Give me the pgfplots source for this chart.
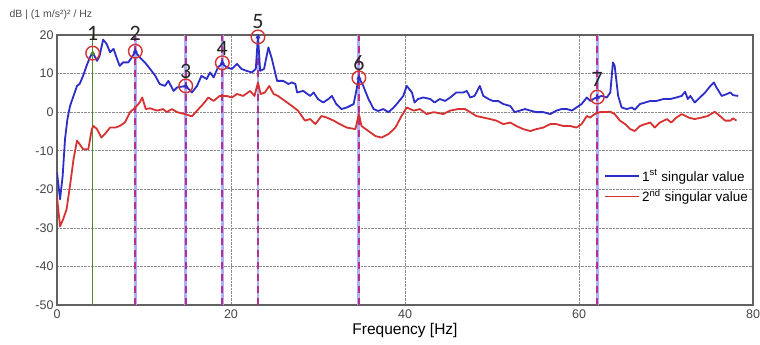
\documentclass[border=0pt]{standalone}
\usepackage{fontspec}
\setmainfont{Liberation Sans}
\newfontfamily\numfont{Carlito}
\usepackage{pgfplots}
\pgfplotsset{compat=1.18}
\usepackage{pgfplotstable}
\definecolor{sv1}{RGB}{45,45,200}
\definecolor{sv2}{RGB}{215,50,50}
\definecolor{vblue}{RGB}{175,175,245}
\definecolor{vred}{RGB}{180,50,140}
\definecolor{gline}{RGB}{80,140,40}
\definecolor{ticktext}{RGB}{70,70,70}

\pgfplotstableread{
f d
0 -15.6
0.35 -22.6
0.65 -16.6
0.92 -7
1.2 -1.8
1.5 1.6
1.9 4.2
2.3 6.8
2.6 7.3
3.0 9.4
3.4 12
3.8 14.3
4.1 15.5
4.6 13.3
4.9 14.6
5.3 18.8
5.7 17.7
6.1 15.5
6.5 16.4
6.9 13.8
7.2 12
7.6 12.9
8.2 12.9
8.6 14.2
9.0 15.7
9.5 14.2
10.1 12.9
10.7 11.2
11.3 9.4
11.8 7.3
12.4 6.8
12.8 8.1
13.4 5.5
13.8 6.4
14.8 6.8
15.5 5.1
16.1 6.8
16.6 9.4
17.2 8.6
17.6 10.3
18.0 9
18.5 11.6
19.0 12.6
19.5 11.6
20.1 11.2
20.7 12.5
21.2 11.2
21.8 10.7
22.4 10.3
22.85 11.2
23.1 19.8
23.35 10.7
23.8 11.2
24.3 16.8
24.7 13.8
25.3 8.1
26.0 8.1
26.6 7.3
27.0 7.7
27.4 7.3
27.6 5.1
28.3 5.5
29.1 4.2
29.5 5.1
30.0 3.4
30.6 2.5
31.2 3.4
31.6 4.2
32.1 2.1
32.7 0.8
33.3 1.2
34.1 2.1
34.7 9
35.2 6.8
35.8 3.4
36.4 0.8
36.9 0.3
37.5 0.8
38.1 0
38.7 1.2
39.2 2.5
39.8 4.2
40.2 6.8
40.8 5.1
41.1 2.5
41.5 3.4
42.1 3.8
42.9 3.4
43.4 2.5
44.0 3.4
44.6 2.9
45.2 3.8
45.9 5.1
46.7 5.1
47.1 5.5
47.5 3.8
48.0 4.2
48.6 6.8
49.0 4.2
49.6 3.4
50.1 2.9
50.7 2.9
51.3 2.1
52.1 1.6
52.6 0
53.2 0.4
53.8 0.8
54.4 0.4
55.1 0
55.9 0
56.7 -0.5
57.4 0.4
58.0 0.8
58.6 0.8
59.2 0.4
59.7 1.2
60.3 2.1
60.9 3.8
61.3 2.9
61.8 3.6
62.2 3.9
62.6 4.2
63.2 3.8
63.6 5.1
63.9 12.9
64.1 12
64.5 4.2
64.9 1.2
65.5 0.8
66.1 1.2
66.4 0.6
67.0 2.1
67.6 2.5
68.2 2.9
68.9 2.9
69.7 3.4
70.5 3.4
71.2 3.8
71.8 4.2
72.2 5.3
72.5 3.4
72.8 4.2
73.3 2.5
73.9 3.8
74.5 5.1
75.1 6.8
75.5 7.7
75.8 6.4
76.4 4.2
77.0 4.7
77.4 5.1
77.7 4.4
78.3 4.2
}\svone

\pgfplotstableread{
f d
0 -22
0.35 -29.6
0.7 -27.8
1.1 -25.2
1.5 -19
1.9 -12.2
2.3 -7.4
2.6 -8.3
3.0 -9.6
3.6 -9.6
4.0 -4.4
4.2 -3.6
4.6 -4.4
5.1 -6.6
5.5 -5.7
6.1 -4
6.7 -4
7.2 -3.6
7.8 -2.7
8.4 0
9.0 1.2
9.5 2.5
9.8 3.8
10.2 0.8
10.7 1
11.5 0.4
12.2 0.8
12.6 0
13.2 0.8
13.8 0
14.7 -0.5
15.5 -1.1
16.1 0.4
16.8 2.1
17.4 3.8
18.0 2.9
18.7 4.2
19.5 4.2
20.1 3.8
20.7 4.7
21.4 4.2
22.2 5.5
22.7 4.2
23.1 7.7
23.4 4.7
23.9 5.1
24.4 6.8
24.9 4.7
25.4 4.2
26.2 2.9
27.0 1.6
27.7 0.4
28.5 -2.2
29.1 -1.8
29.7 -3.1
30.4 -1
31.0 -1.4
31.8 -2.2
32.5 -3.1
33.3 -4
34.3 -4.4
34.7 -0.5
35.0 -3.6
35.8 -4.9
36.6 -6.2
37.3 -6.6
38.1 -5.7
38.9 -4
39.6 -1
40.2 1.2
41.0 0.4
41.7 0.8
42.5 -0.5
43.3 0
44.0 -0.3
44.4 -0.5
45.2 0.4
46.1 0.8
46.9 0.8
47.5 0
48.2 -1
49.0 -1.4
49.8 -1.8
50.5 -2.2
51.3 -3.1
52.1 -2.7
52.8 -3.6
53.6 -4.4
54.4 -4.9
55.1 -4.4
55.9 -4
56.7 -3.1
57.4 -3.1
58.2 -3.6
59.0 -3.6
59.7 -4
60.3 -3.1
60.9 -1
61.3 -1.4
61.8 -0.5
62.4 0
62.8 0
63.6 0.1
64.1 -0.5
64.7 -2.2
65.3 -3.1
65.9 -4.4
66.4 -4.9
67.0 -3.6
67.6 -3.1
68.2 -2.7
68.7 -4
69.3 -2.7
70.1 -1.8
70.6 -2.7
71.2 -1.4
71.8 -0.5
72.6 -1.4
73.3 -1.8
74.1 -1.4
74.8 -1
75.6 0.1
76.2 -1
76.8 -2.2
77.4 -2.2
77.7 -1.6
78.1 -2.2
}\svtwo

\begin{document}
\begin{tikzpicture}
\useasboundingbox (0pt,0pt) rectangle (760pt,345pt);
\begin{axis}[
  at={(57pt,40pt)}, anchor=south west,
  scale only axis, width=696pt, height=270pt,
  xmin=0, xmax=80, ymin=-50, ymax=20,
  xtick={0,20,40,60,80}, ytick={-50,-40,-30,-20,-10,0,10,20},
  grid=major,
  major grid style={densely dotted, black!45, line width=0.7pt},
  axis line style={line width=1.5pt, black!62},
  major tick length=0pt,
  tick label style={font=\fontsize{12.5}{14}\selectfont, text=ticktext},
  xticklabel style={yshift=-1pt},
  /pgf/number format/assume math mode=true,
  xlabel={Frequency [Hz]},
  xlabel style={font=\fontsize{15.5}{18}\selectfont, yshift=2pt},
  clip mode=individual,
  legend cell align=left,
  legend style={at={(1,0.52)}, anchor=north east, draw=none, fill=none,
    font=\fontsize{13.5}{16}\selectfont, row sep=3pt, inner xsep=3pt, inner ysep=3pt},
  legend image code/.code={\draw[#1, line width=1.8pt] (0pt,0pt) -- (34pt,0pt);},
]
% vertical mode lines
\addplot[gline, line width=1.3pt, forget plot] coordinates {(4.1,-50) (4.1,20)};
\addplot[vblue, line width=2.8pt, forget plot] coordinates {(9.0,-50) (9.0,20)};
\addplot[vred, line width=2pt, dash pattern=on 7pt off 5pt, forget plot] coordinates {(9.0,-50) (9.0,20)};
\addplot[vblue, line width=2.8pt, forget plot] coordinates {(14.8,-50) (14.8,20)};
\addplot[vred, line width=2pt, dash pattern=on 7pt off 5pt, forget plot] coordinates {(14.8,-50) (14.8,20)};
\addplot[vblue, line width=2.8pt, forget plot] coordinates {(19.0,-50) (19.0,20)};
\addplot[vred, line width=2pt, dash pattern=on 7pt off 5pt, forget plot] coordinates {(19.0,-50) (19.0,20)};
\addplot[vblue, line width=2.8pt, forget plot] coordinates {(23.1,-50) (23.1,20)};
\addplot[vred, line width=2pt, dash pattern=on 7pt off 5pt, forget plot] coordinates {(23.1,-50) (23.1,20)};
\addplot[vblue, line width=2.8pt, forget plot] coordinates {(34.7,-50) (34.7,20)};
\addplot[vred, line width=2pt, dash pattern=on 7pt off 5pt, forget plot] coordinates {(34.7,-50) (34.7,20)};
\addplot[vblue, line width=2.8pt, forget plot] coordinates {(62.1,-50) (62.1,20)};
\addplot[vred, line width=2pt, dash pattern=on 7pt off 5pt, forget plot] coordinates {(62.1,-50) (62.1,20)};
% curves
\addplot[sv1, line width=1.8pt, line join=round] table[x=f,y=d] {\svone};
\addlegendentry{1\textsuperscript{st} singular value}
\addplot[sv2, line width=1.8pt, line join=round] table[x=f,y=d] {\svtwo};
\addlegendentry{2\textsuperscript{nd} singular value}
% peak markers
\addplot[only marks, mark=triangle*, mark size=2.5pt, color=gline, forget plot] coordinates {(4.1,15.3)};
\addplot[only marks, mark=triangle*, mark size=2.5pt, color=sv1, forget plot] coordinates {(9.0,15.8) (14.8,6.8) (19.0,12.8) (23.1,19.5) (34.7,8.9) (62.1,3.9)};
\addplot[only marks, mark=o, mark size=6.8pt, mark options={line width=1.4pt, draw=sv2}, forget plot]
  coordinates {(4.1,15.3) (9.0,15.8) (14.8,6.8) (19.0,12.8) (23.1,19.5) (34.7,8.9) (62.1,3.9)};
% peak numbers
\begin{scope}[every node/.style={font=\numfont\fontsize{22}{22}\selectfont, text=black!85}]
\node at (axis cs:4.1,20.5) {1};
\node at (axis cs:9.0,20.3) {2};
\node at (axis cs:14.8,10.6) {3};
\node at (axis cs:19.0,16.4) {4};
\node at (axis cs:23.1,23.4) {5};
\node at (axis cs:34.7,12.7) {6};
\node at (axis cs:62.1,8.6) {7};
\end{scope}
\end{axis}
\node[anchor=west, font=\fontsize{10.5}{12}\selectfont, text=black!70] at (6pt,330pt) {dB | (1 m/s²)² / Hz};
\end{tikzpicture}
\end{document}
